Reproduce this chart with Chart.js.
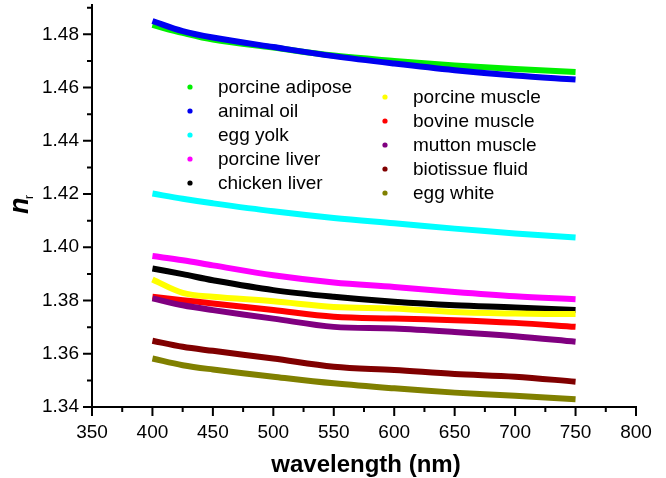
<!DOCTYPE html>
<html>
<head>
<meta charset="utf-8">
<script src="https://cdn.jsdelivr.net/npm/chart.js@4/dist/chart.umd.min.js"></script>
<style>
  html, body { margin: 0; padding: 0; background: #fff; }
  #wrap { width: 666px; height: 478px; }
</style>
</head>
<body>
<div id="wrap"><canvas id="c" width="666" height="478"></canvas></div>
<script>
// wavelengths (nm) where values were read
const wavelengths = [400, 425, 450, 500, 550, 600, 650, 700, 750];

// refractive index readings per sample
const porcineAdipose = [1.4835, 1.4805, 1.4780, 1.4750, 1.4720, 1.4700, 1.4683, 1.4670, 1.4658];
const animalOil      = [1.4850, 1.4812, 1.4788, 1.4752, 1.4718, 1.4690, 1.4665, 1.4645, 1.4630];
const eggYolk        = [1.4202, 1.4182, 1.4165, 1.4135, 1.4110, 1.4090, 1.4070, 1.4052, 1.4037];
const porcineLiver   = [1.3967, 1.3951, 1.3932, 1.3895, 1.3868, 1.3851, 1.3832, 1.3816, 1.3805];
const chickenLiver   = [1.3920, 1.3899, 1.3876, 1.3839, 1.3814, 1.3795, 1.3782, 1.3774, 1.3764];
const porcineMuscle  = [1.3879, 1.3829, 1.3814, 1.3797, 1.3776, 1.3770, 1.3757, 1.3751, 1.3749];
const bovineMuscle   = [1.3814, 1.3801, 1.3789, 1.3764, 1.3739, 1.3732, 1.3726, 1.3716, 1.3701];
const muttonMuscle   = [1.3808, 1.3782, 1.3764, 1.3732, 1.3701, 1.3695, 1.3682, 1.3666, 1.3645];
const biotissueFluid = [1.3649, 1.3626, 1.3611, 1.3582, 1.3551, 1.3539, 1.3524, 1.3514, 1.3495];
const eggWhite       = [1.3582, 1.3557, 1.3541, 1.3514, 1.3489, 1.3470, 1.3454, 1.3442, 1.3429];

const seriesNames = ['porcine adipose', 'animal oil', 'egg yolk', 'porcine liver', 'chicken liver',
                     'porcine muscle', 'bovine muscle', 'mutton muscle', 'biotissue fluid', 'egg white'];
const seriesValues = [porcineAdipose, animalOil, eggYolk, porcineLiver, chickenLiver,
                      porcineMuscle, bovineMuscle, muttonMuscle, biotissueFluid, eggWhite];
const seriesColors = ['#00f000', '#0000f0', '#00ffff', '#ff00ff', '#000000',
                      '#ffff00', '#ff0000', '#800080', '#800000', '#808000'];

// axis ticks
const xTicks = [350, 400, 450, 500, 550, 600, 650, 700, 750, 800];
const yTicks = [1.34, 1.36, 1.38, 1.40, 1.42, 1.44, 1.46, 1.48];

const FONT = 'Arial, "Liberation Sans", sans-serif';

// build datasets; later samples drawn on top like the original plot
const datasets = seriesNames.map((name, i) => ({
    label: name,
    data: wavelengths.map((w, k) => ({ x: w, y: seriesValues[i][k] })),
    borderColor: seriesColors[i],
    backgroundColor: seriesColors[i],
    borderWidth: 6,
    pointRadius: 0,
    tension: 0.35,
    order: seriesNames.length - i
}));

// ticks, legend and axis titles drawn by hand
const decorPlugin = {
    id: 'decor',
    afterDraw(chart) {
        const ctx = chart.ctx;
        const xs = chart.scales.x;
        const ys = chart.scales.y;
        const left = chart.chartArea.left;
        const bottom = chart.chartArea.bottom;
        ctx.save();
        ctx.strokeStyle = '#000';
        ctx.lineWidth = 2;
        ctx.beginPath();
        yTicks.forEach((v) => {
            const p = ys.getPixelForValue(v);
            ctx.moveTo(left - 9, p); ctx.lineTo(left, p);
            const m = ys.getPixelForValue(v + 0.01);
            ctx.moveTo(left - 5, m); ctx.lineTo(left, m);
        });
        xTicks.forEach((v, i) => {
            const p = xs.getPixelForValue(v);
            ctx.moveTo(p, bottom); ctx.lineTo(p, bottom + 9);
            if (i < xTicks.length - 1) {
                const m = xs.getPixelForValue(v + 25);
                ctx.moveTo(m, bottom); ctx.lineTo(m, bottom + 5);
            }
        });
        ctx.stroke();

        // two-column legend inside the plot
        ctx.font = '19px ' + FONT;
        ctx.textBaseline = 'middle';
        ctx.textAlign = 'left';
        seriesNames.forEach((name, i) => {
            const col = i < 5 ? 0 : 1;
            const row = i % 5;
            const dx = col === 0 ? 190 : 385;
            const y = (col === 0 ? 87 : 97) + row * 24;
            ctx.fillStyle = seriesColors[i];
            ctx.beginPath();
            ctx.arc(dx, y, 2.6, 0, Math.PI * 2);
            ctx.fill();
            ctx.fillStyle = '#000';
            ctx.fillText(name, dx + 28, y + 1);
        });

        // x title
        ctx.font = 'bold 24px ' + FONT;
        ctx.textAlign = 'center';
        ctx.textBaseline = 'alphabetic';
        ctx.fillText('wavelength (nm)', 366, 472);

        // y title n with subscript r
        ctx.translate(28, 214);
        ctx.rotate(-Math.PI / 2);
        ctx.textAlign = 'left';
        ctx.font = 'italic bold 27px ' + FONT;
        ctx.fillText('n', 0, 0);
        ctx.font = '12px ' + FONT;
        ctx.fillText('r', 15, 5);
        ctx.restore();
    }
};

new Chart(document.getElementById('c'), {
    type: 'line',
    data: { datasets: datasets },
    options: {
        responsive: false,
        animation: false,
        layout: { padding: { top: 5, right: 30, left: 0, bottom: 0 } },
        plugins: { legend: { display: false }, tooltip: { enabled: false } },
        scales: {
            x: {
                type: 'linear',
                min: 350,
                max: 800,
                grid: { display: false },
                border: { display: true, color: '#000', width: 2 },
                afterBuildTicks: (s) => { s.ticks = xTicks.map(v => ({ value: v })); },
                afterFit: (s) => { s.height = 71; },
                ticks: { color: '#000', padding: 6, font: { family: FONT, size: 19 }, maxRotation: 0 }
            },
            y: {
                type: 'linear',
                min: 1.34,
                max: 1.491,
                grid: { display: false },
                border: { display: true, color: '#000', width: 2 },
                afterBuildTicks: (s) => { s.ticks = yTicks.map(v => ({ value: v })); },
                afterFit: (s) => { s.width = 92; s.paddingTop = 0; s.paddingBottom = 0; },
                ticks: { color: '#000', padding: 5, font: { family: FONT, size: 19 },
                         callback: (v) => v.toFixed(2) }
            }
        }
    },
    plugins: [decorPlugin]
});
</script>
</body>
</html>
